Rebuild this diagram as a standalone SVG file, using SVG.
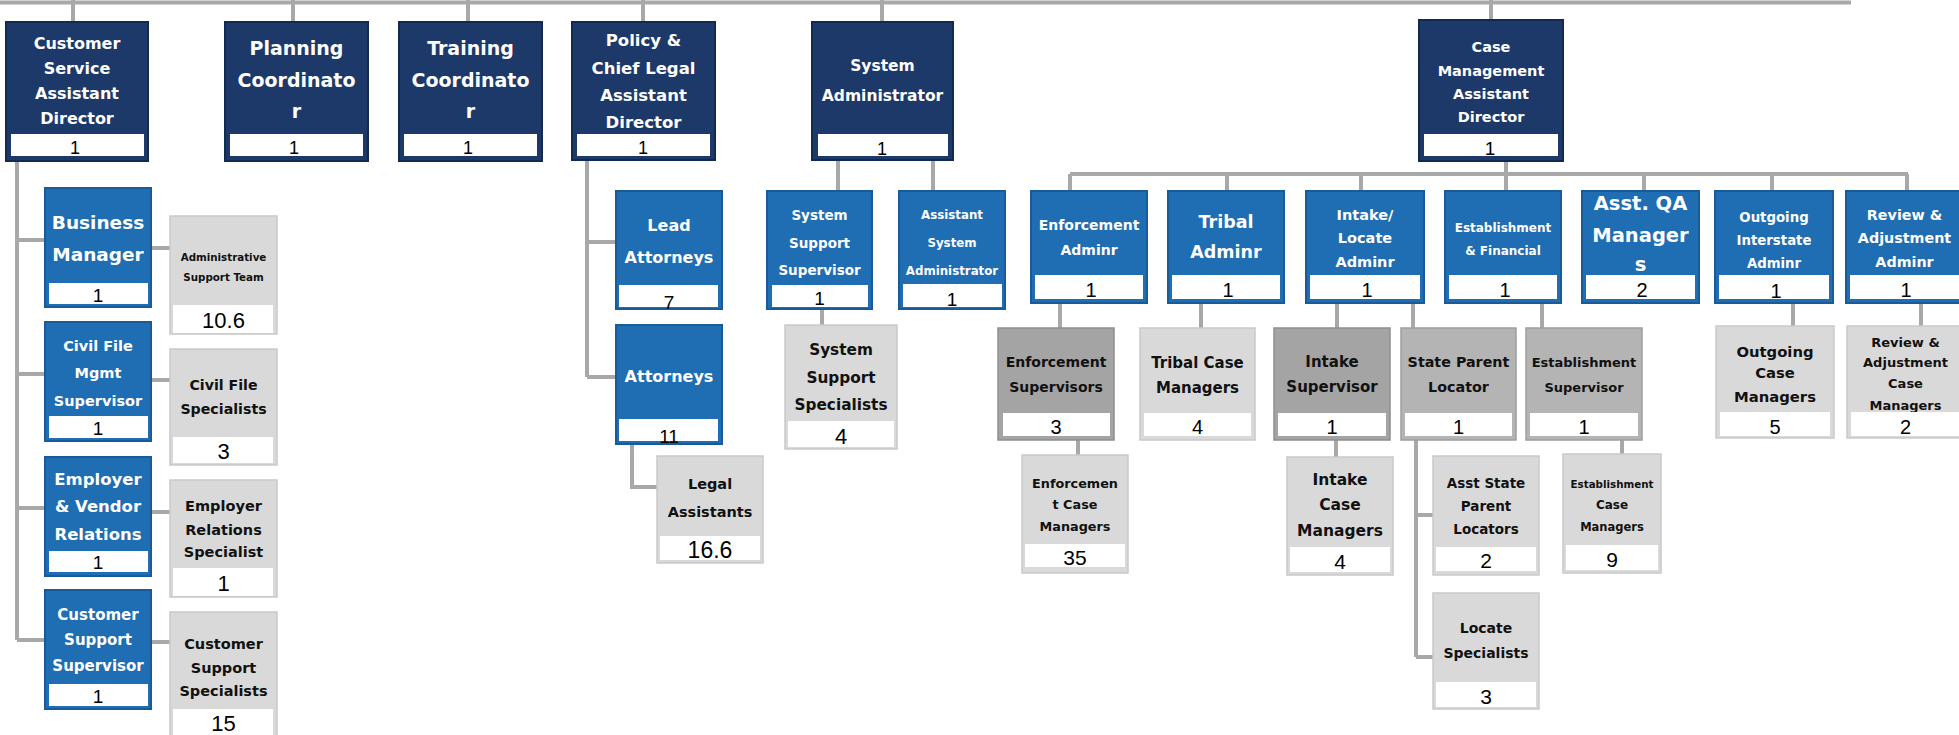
<svg xmlns="http://www.w3.org/2000/svg" width="1959" height="735" viewBox="0 0 1959 735">
<style>
.navy{fill:#1d3969;stroke:#14294f;stroke-width:2}
.blue{fill:#1f6db2;stroke:#195a98;stroke-width:2}
.lg{fill:#d9d9d9;stroke:#c9c9c9;stroke-width:1.5}
.dg{fill:#a4a4a4;stroke:#8e8e8e;stroke-width:1.5}
.mg{fill:#b4b4b4;stroke:#9e9e9e;stroke-width:1.5}
.s{fill:#ffffff}
.t{font-family:"DejaVu Sans",sans-serif;font-weight:bold;text-anchor:middle}
.w{fill:#ffffff}
.k{fill:#111111}
.n{font-family:"Liberation Sans",sans-serif;text-anchor:middle;fill:#000000}
.c{stroke:#a8a8a8;stroke-width:4;fill:none}
</style>
<rect width="1959" height="735" fill="#ffffff"/>
<g id="connectors" class="c">
<path d="M0 2.5H1851"/>
<path d="M73 0V22M293 0V22M468 0V22M643 0V22M882 0V22M1491 0V20"/>
<path d="M17 161V640M17 240H45M17 374H45M17 508H45M17 640H45"/>
<path d="M151 248H170M151 380H170M151 512H170M151 642H170"/>
<path d="M587 160V377M587 242H616M587 377H616"/>
<path d="M632 444V487H657"/>
<path d="M838 160V191M933 160V191M822 309V325"/>
<path d="M1506 161V174M1070 174H1908M1070 174V191M1227 174V191M1361 174V191M1506 174V191M1644 174V191M1772 174V191M1907 174V191"/>
<path d="M1060 303V328M1201 303V328M1337 303V328M1413 303V328M1542 303V328M1793 303V326M1921 303V326"/>
<path d="M1078 440V455M1336 440V457M1622 440V454"/>
<path d="M1416 436V657M1416 515H1433M1416 657H1433"/>
</g>

<g id="csad"><rect class="navy" x="6" y="22" width="142" height="139"/><rect class="s" x="11" y="134" width="133" height="22"/>
<text class="t w" font-size="16"><tspan x="77" y="49">Customer</tspan><tspan x="77" y="74">Service</tspan><tspan x="77" y="99">Assistant</tspan><tspan x="77" y="124">Director</tspan></text>
<text class="n" font-size="18" x="75" y="154">1</text></g>

<g id="planning"><rect class="navy" x="225" y="22" width="143" height="139"/><rect class="s" x="230" y="134" width="133" height="22"/>
<text class="t w" font-size="19"><tspan x="296.5" y="55">Planning</tspan><tspan x="296.5" y="87">Coordinato</tspan><tspan x="296.5" y="118">r</tspan></text>
<text class="n" font-size="18" x="294" y="154">1</text></g>

<g id="training"><rect class="navy" x="399" y="22" width="143" height="139"/><rect class="s" x="404" y="134" width="133" height="22"/>
<text class="t w" font-size="19"><tspan x="470.5" y="55">Training</tspan><tspan x="470.5" y="87">Coordinato</tspan><tspan x="470.5" y="118">r</tspan></text>
<text class="n" font-size="18" x="468" y="154">1</text></g>

<g id="policy"><rect class="navy" x="572" y="22" width="143" height="138"/><rect class="s" x="577" y="134" width="133" height="22"/>
<text class="t w" font-size="16.5"><tspan x="643.5" y="46">Policy &amp;</tspan><tspan x="643.5" y="74">Chief Legal</tspan><tspan x="643.5" y="101">Assistant</tspan><tspan x="643.5" y="128">Director</tspan></text>
<text class="n" font-size="18" x="643" y="154">1</text></g>

<g id="sysadmin"><rect class="navy" x="812" y="22" width="141" height="138"/><rect class="s" x="818" y="134" width="130" height="22"/>
<text class="t w" font-size="15.5"><tspan x="882.5" y="71">System</tspan><tspan x="882.5" y="101">Administrator</tspan></text>
<text class="n" font-size="18" x="882" y="155">1</text></g>

<g id="cmad"><rect class="navy" x="1419" y="20" width="144" height="141"/><rect class="s" x="1424" y="134" width="134" height="22"/>
<text class="t w" font-size="14.5"><tspan x="1491" y="52">Case</tspan><tspan x="1491" y="76">Management</tspan><tspan x="1491" y="99">Assistant</tspan><tspan x="1491" y="122">Director</tspan></text>
<text class="n" font-size="19" x="1490" y="155">1</text></g>

<g id="bizmgr"><rect class="blue" x="45" y="188" width="106" height="119"/><rect class="s" x="49" y="283" width="99" height="21"/>
<text class="t w" font-size="18.5"><tspan x="98" y="229">Business</tspan><tspan x="98" y="261">Manager</tspan></text>
<text class="n" font-size="19" x="98" y="302">1</text></g>

<g id="civilfilemgmt"><rect class="blue" x="45" y="322" width="106" height="119"/><rect class="s" x="49" y="416" width="99" height="22"/>
<text class="t w" font-size="14.5"><tspan x="98" y="351">Civil File</tspan><tspan x="98" y="378">Mgmt</tspan><tspan x="98" y="406">Supervisor</tspan></text>
<text class="n" font-size="19" x="98" y="435">1</text></g>

<g id="employervendor"><rect class="blue" x="45" y="457" width="106" height="119"/><rect class="s" x="49" y="551" width="99" height="21"/>
<text class="t w" font-size="16.5"><tspan x="98" y="485">Employer</tspan><tspan x="98" y="512">&amp; Vendor</tspan><tspan x="98" y="540">Relations</tspan></text>
<text class="n" font-size="19" x="98" y="569">1</text></g>

<g id="custsupportsup"><rect class="blue" x="45" y="590" width="106" height="119"/><rect class="s" x="49" y="684" width="99" height="22"/>
<text class="t w" font-size="15"><tspan x="98" y="620">Customer</tspan><tspan x="98" y="645">Support</tspan><tspan x="98" y="671">Supervisor</tspan></text>
<text class="n" font-size="19" x="98" y="703">1</text></g>

<g id="adminsupport"><rect class="lg" x="170" y="216" width="107" height="118"/><rect class="s" x="173" y="305" width="100" height="28"/>
<text class="t k" font-size="10.3"><tspan x="223.5" y="261">Administrative</tspan><tspan x="223.5" y="281">Support Team</tspan></text>
<text class="n" font-size="22" x="223.5" y="328">10.6</text></g>

<g id="civilfilespec"><rect class="lg" x="170" y="349" width="107" height="116"/><rect class="s" x="173" y="437" width="100" height="26"/>
<text class="t k" font-size="14.2"><tspan x="223.5" y="390">Civil File</tspan><tspan x="223.5" y="414">Specialists</tspan></text>
<text class="n" font-size="22" x="223.5" y="459">3</text></g>

<g id="employerrelspec"><rect class="lg" x="170" y="480" width="107" height="117"/><rect class="s" x="173" y="568" width="100" height="28"/>
<text class="t k" font-size="14.5"><tspan x="223.5" y="511">Employer</tspan><tspan x="223.5" y="535">Relations</tspan><tspan x="223.5" y="557">Specialist</tspan></text>
<text class="n" font-size="22" x="223.5" y="591">1</text></g>

<g id="custsupportspec"><rect class="lg" x="170" y="612" width="107" height="126"/><rect class="s" x="173" y="709" width="100" height="29"/>
<text class="t k" font-size="14.5"><tspan x="223.5" y="649">Customer</tspan><tspan x="223.5" y="673">Support</tspan><tspan x="223.5" y="696">Specialists</tspan></text>
<text class="n" font-size="22" x="223.5" y="731">15</text></g>

<g id="leadattorneys"><rect class="blue" x="616" y="191" width="106" height="118"/><rect class="s" x="619" y="285" width="99" height="22"/>
<text class="t w" font-size="16"><tspan x="669" y="231">Lead</tspan><tspan x="669" y="263">Attorneys</tspan></text>
<text class="n" font-size="19" x="669" y="309">7</text></g>

<g id="attorneys"><rect class="blue" x="616" y="325" width="106" height="119"/><rect class="s" x="619" y="419" width="99" height="22"/>
<text class="t w" font-size="16"><tspan x="669" y="382">Attorneys</tspan></text>
<text class="n" font-size="19" x="669" y="443">11</text></g>

<g id="legalassistants"><rect class="lg" x="657" y="456" width="106" height="107"/><rect class="s" x="660" y="536" width="100" height="24"/>
<text class="t k" font-size="14.5"><tspan x="710" y="489">Legal</tspan><tspan x="710" y="517">Assistants</tspan></text>
<text class="n" font-size="23" x="710" y="558">16.6</text></g>

<g id="syssupportsup"><rect class="blue" x="767" y="191" width="105" height="118"/><rect class="s" x="772" y="285" width="96" height="22"/>
<text class="t w" font-size="13.5"><tspan x="819.5" y="220">System</tspan><tspan x="819.5" y="248">Support</tspan><tspan x="819.5" y="275">Supervisor</tspan></text>
<text class="n" font-size="19" x="819.5" y="305">1</text></g>

<g id="asstsysadmin"><rect class="blue" x="899" y="191" width="106" height="118"/><rect class="s" x="903" y="284" width="99" height="23"/>
<text class="t w" font-size="11.8"><tspan x="952" y="219">Assistant</tspan><tspan x="952" y="247">System</tspan><tspan x="952" y="275">Administrator</tspan></text>
<text class="n" font-size="19" x="952" y="306">1</text></g>

<g id="syssupportspec"><rect class="lg" x="785" y="325" width="112" height="124"/><rect class="s" x="788" y="421" width="106" height="26"/>
<text class="t k" font-size="15.3"><tspan x="841" y="355">System</tspan><tspan x="841" y="383">Support</tspan><tspan x="841" y="410">Specialists</tspan></text>
<text class="n" font-size="22" x="841" y="444">4</text></g>

<g id="enfadminr"><rect class="blue" x="1031" y="191" width="116" height="112"/><rect class="s" x="1035" y="275" width="108" height="24"/>
<text class="t w" font-size="14"><tspan x="1089" y="230">Enforcement</tspan><tspan x="1089" y="255">Adminr</tspan></text>
<text class="n" font-size="20" x="1091" y="297">1</text></g>

<g id="tribaladminr"><rect class="blue" x="1168" y="191" width="116" height="112"/><rect class="s" x="1172" y="275" width="108" height="24"/>
<text class="t w" font-size="17.5"><tspan x="1226" y="228">Tribal</tspan><tspan x="1226" y="258">Adminr</tspan></text>
<text class="n" font-size="20" x="1228" y="297">1</text></g>

<g id="intakeadminr"><rect class="blue" x="1306" y="191" width="118" height="112"/><rect class="s" x="1310" y="275" width="110" height="24"/>
<text class="t w" font-size="14.5"><tspan x="1365" y="220">Intake/</tspan><tspan x="1365" y="243">Locate</tspan><tspan x="1365" y="267">Adminr</tspan></text>
<text class="n" font-size="20" x="1367" y="297">1</text></g>

<g id="estabfin"><rect class="blue" x="1445" y="191" width="116" height="112"/><rect class="s" x="1449" y="275" width="108" height="24"/>
<text class="t w" font-size="12"><tspan x="1503" y="232">Establishment</tspan><tspan x="1503" y="255">&amp; Financial</tspan></text>
<text class="n" font-size="20" x="1505" y="297">1</text></g>

<g id="qamgrs"><rect class="blue" x="1582" y="191" width="117" height="112"/><rect class="s" x="1586" y="275" width="109" height="24"/>
<text class="t w" font-size="19.5"><tspan x="1640.5" y="210">Asst. QA</tspan><tspan x="1640.5" y="242">Manager</tspan><tspan x="1640.5" y="271">s</tspan></text>
<text class="n" font-size="20" x="1642" y="297">2</text></g>

<g id="outgoingadminr"><rect class="blue" x="1715" y="191" width="118" height="112"/><rect class="s" x="1719" y="275" width="110" height="24"/>
<text class="t w" font-size="13.3"><tspan x="1774" y="222">Outgoing</tspan><tspan x="1774" y="245">Interstate</tspan><tspan x="1774" y="268">Adminr</tspan></text>
<text class="n" font-size="20" x="1776" y="298">1</text></g>

<g id="reviewadminr"><rect class="blue" x="1846" y="191" width="117" height="112"/><rect class="s" x="1850" y="275" width="109" height="24"/>
<text class="t w" font-size="14.3"><tspan x="1904.5" y="220">Review &amp;</tspan><tspan x="1904.5" y="243">Adjustment</tspan><tspan x="1904.5" y="267">Adminr</tspan></text>
<text class="n" font-size="20" x="1906" y="297">1</text></g>

<g id="enfsup"><rect class="dg" x="998" y="328" width="116" height="112"/><rect class="s" x="1003" y="413" width="107" height="23"/>
<text class="t k" font-size="14"><tspan x="1056" y="367">Enforcement</tspan><tspan x="1056" y="392">Supervisors</tspan></text>
<text class="n" font-size="20" x="1056" y="434">3</text></g>

<g id="tribalcm"><rect class="lg" x="1140" y="328" width="115" height="112"/><rect class="s" x="1144" y="413" width="107" height="23"/>
<text class="t k" font-size="15"><tspan x="1197.5" y="368">Tribal Case</tspan><tspan x="1197.5" y="393">Managers</tspan></text>
<text class="n" font-size="20" x="1197.5" y="434">4</text></g>

<g id="intakesup"><rect class="dg" x="1274" y="328" width="116" height="112"/><rect class="s" x="1278" y="413" width="108" height="23"/>
<text class="t k" font-size="15"><tspan x="1332" y="367">Intake</tspan><tspan x="1332" y="392">Supervisor</tspan></text>
<text class="n" font-size="20" x="1332" y="434">1</text></g>

<g id="stateparentlocator"><rect class="mg" x="1401" y="328" width="115" height="112"/><rect class="s" x="1405" y="413" width="107" height="23"/>
<text class="t k" font-size="14.3"><tspan x="1458.5" y="367">State Parent</tspan><tspan x="1458.5" y="392">Locator</tspan></text>
<text class="n" font-size="20" x="1458.5" y="434">1</text></g>

<g id="estabsup"><rect class="mg" x="1526" y="328" width="116" height="112"/><rect class="s" x="1530" y="413" width="108" height="23"/>
<text class="t k" font-size="13"><tspan x="1584" y="367">Establishment</tspan><tspan x="1584" y="392">Supervisor</tspan></text>
<text class="n" font-size="20" x="1584" y="434">1</text></g>

<g id="outgoingcm"><rect class="lg" x="1716" y="326" width="118" height="112"/><rect class="s" x="1720" y="412" width="110" height="24"/>
<text class="t k" font-size="14.8"><tspan x="1775" y="357">Outgoing</tspan><tspan x="1775" y="378">Case</tspan><tspan x="1775" y="402">Managers</tspan></text>
<text class="n" font-size="20" x="1775" y="434">5</text></g>

<g id="reviewcm"><rect class="lg" x="1847" y="326" width="117" height="112"/>
<text class="t k" font-size="13"><tspan x="1905.5" y="347">Review &amp;</tspan><tspan x="1905.5" y="367">Adjustment</tspan><tspan x="1905.5" y="388">Case</tspan><tspan x="1905.5" y="410">Managers</tspan></text>
<rect class="s" x="1851" y="412" width="109" height="24"/>
<text class="n" font-size="20" x="1905.5" y="434">2</text></g>

<g id="enfcm"><rect class="lg" x="1022" y="455" width="106" height="118"/><rect class="s" x="1025" y="544" width="100" height="23"/>
<text class="t k" font-size="12.8"><tspan x="1075" y="488">Enforcemen</tspan><tspan x="1075" y="509">t Case</tspan><tspan x="1075" y="531">Managers</tspan></text>
<text class="n" font-size="21" x="1075" y="565">35</text></g>

<g id="intakecm"><rect class="lg" x="1287" y="457" width="106" height="118"/><rect class="s" x="1290" y="547" width="100" height="25"/>
<text class="t k" font-size="15.5"><tspan x="1340" y="485">Intake</tspan><tspan x="1340" y="510">Case</tspan><tspan x="1340" y="536">Managers</tspan></text>
<text class="n" font-size="21" x="1340" y="569">4</text></g>

<g id="asststateparent"><rect class="lg" x="1433" y="456" width="106" height="119"/><rect class="s" x="1436" y="547" width="100" height="24"/>
<text class="t k" font-size="13.5"><tspan x="1486" y="488">Asst State</tspan><tspan x="1486" y="511">Parent</tspan><tspan x="1486" y="534">Locators</tspan></text>
<text class="n" font-size="21" x="1486" y="568">2</text></g>

<g id="locatespec"><rect class="lg" x="1433" y="593" width="106" height="116"/><rect class="s" x="1436" y="682" width="100" height="25"/>
<text class="t k" font-size="14"><tspan x="1486" y="633">Locate</tspan><tspan x="1486" y="658">Specialists</tspan></text>
<text class="n" font-size="21" x="1486" y="704">3</text></g>

<g id="estabcm"><rect class="lg" x="1563" y="454" width="98" height="119"/><rect class="s" x="1566" y="545" width="92" height="25"/>
<text class="t k"><tspan x="1612" y="488" font-size="10.3">Establishment</tspan><tspan x="1612" y="509" font-size="12">Case</tspan><tspan x="1612" y="531" font-size="11.5">Managers</tspan></text>
<text class="n" font-size="21" x="1612" y="567">9</text></g>
</svg>
